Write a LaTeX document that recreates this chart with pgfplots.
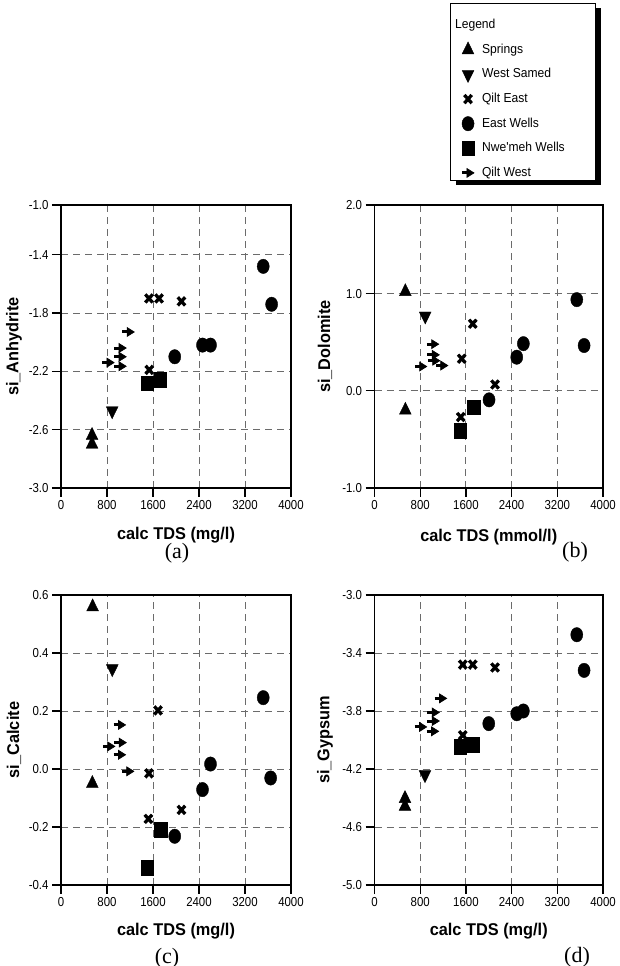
\documentclass[border=0pt]{standalone}
\usepackage{fontspec}
\setmainfont{Liberation Sans}
\newfontfamily\tickfont{Liberation Sans}[FakeStretch=0.88]
\newfontfamily\legfont{Liberation Sans}[FakeStretch=0.93]
\newfontfamily\labfont{Liberation Sans}[FakeStretch=0.96]
\newfontfamily\seriffont{Liberation Serif}
\usepackage{pgfplots}
\pgfplotsset{compat=1.18}
\usetikzlibrary{shadows}

\pgfdeclareplotmark{rarrow}{%
  \pgfsetlinewidth{3pt}%
  \pgfpathmoveto{\pgfqpoint{-\pgfplotmarksize}{0pt}}%
  \pgfpathlineto{\pgfqpoint{0pt}{0pt}}%
  \pgfusepathqstroke
  \pgfsetlinewidth{0.6pt}%
  \pgfpathmoveto{\pgfqpoint{-0.2\pgfplotmarksize}{0.75\pgfplotmarksize}}%
  \pgfpathlineto{\pgfqpoint{\pgfplotmarksize}{0pt}}%
  \pgfpathlineto{\pgfqpoint{-0.2\pgfplotmarksize}{-0.75\pgfplotmarksize}}%
  \pgfpathclose
  \pgfusepathqfillstroke
}

\pgfplotsset{
  panel/.style={
    scale only axis,
    xmin=0, xmax=4000,
    xtick={0,800,1600,2400,3200,4000},
    tick pos=left,
    tick align=outside,
    major tick length=9pt,
    every tick/.style={black, line width=1.2pt},
    axis line style={line width=1.6pt},
    grid=major,
    major grid style={black!58, line width=0.9pt, dash pattern=on 7pt off 5pt},
    /pgf/number format/assume math mode=true,
    /pgf/number format/1000 sep={},
    scaled ticks=false,
    tick label style={font=\tickfont\fontsize{13}{13}\selectfont},
    label style={font=\labfont\bfseries\fontsize{17}{17}\selectfont},
    clip=false,
  },
  sp/.style={black, only marks, mark=triangle*, mark size=8pt, mark options={fill=black, draw=black, line width=0.4pt, xscale=0.85}},
  ws/.style={black, only marks, mark=triangle*, mark size=8pt, mark options={fill=black, draw=black, line width=0.4pt, xscale=0.85, rotate=180}},
  qe/.style={black, only marks, mark=x, mark size=5.8pt, mark options={draw=black, line width=3.3pt, xscale=0.9}},
  ew/.style={black, only marks, mark=*, mark size=7.2pt, mark options={fill=black, draw=black, line width=0.4pt, xscale=0.84}},
  nw/.style={black, only marks, mark=square*, mark size=7.2pt, mark options={fill=black, draw=black, line width=0.4pt, xscale=0.84}},
  qw/.style={black, only marks, mark=rarrow, mark size=6pt, mark options={fill=black, draw=black}},
}

\begin{document}
\begin{tikzpicture}
\path[use as bounding box] (0pt,0pt) rectangle (619pt,966pt);

% ---------------- (a) ----------------
\begin{axis}[panel, at={(61pt,478pt)}, anchor=south west, width=230pt, height=283pt,
  ymin=-3, ymax=-1.059, ytick={-3,-2.6,-2.2,-1.8,-1.4,-1.059},
  yticklabels={-3.0,-2.6,-2.2,-1.8,-1.4,-1.0},
  xlabel={calc TDS (mg/l)}, ylabel={si\_Anhydrite},
  xlabel style={at={(axis description cs:0.5,-0.166)}, anchor=center},
  ylabel style={at={(axis description cs:-0.204,0.5)}, anchor=center},
  legend cell align=left,
  legend style={at={(1.6913,1.7138)}, anchor=north west, draw=black, line width=1pt, fill=white,
    font=\legfont\fontsize{13}{15}\selectfont,
    drop shadow={shadow xshift=5pt, shadow yshift=-5pt, fill=black, opacity=1},
    inner ysep=1pt, inner xsep=9pt,
    row sep=0pt, nodes={text height=9.5pt, text depth=2.5pt, inner ysep=6.3pt},
    /tikz/every odd column/.append style={column sep=6pt}},
]
\addlegendimage{empty legend}\addlegendentry[text height=18pt]{\hspace*{-27pt}Legend}
\addplot[sp] coordinates {(540,-2.64) (540,-2.70)};
\addlegendentry{Springs}
\addplot[ws] coordinates {(890,-2.47)};
\addlegendentry{West Samed}
\addplot[qe] coordinates {(1530,-1.70) (1705,-1.70) (2095,-1.72) (1535,-2.19)};
\addlegendentry{Qilt East}
\addplot[ew] coordinates {(1978,-2.10) (2461,-2.02) (2600,-2.02) (3517,-1.48) (3663,-1.74)};
\addlegendentry{East Wells}
\addplot[nw] coordinates {(1504,-2.28) (1722,-2.256)};
\addlegendentry{Nwe'meh Wells\hspace*{20pt}}
\addplot[qw] coordinates {(820,-2.14) (1030,-2.04) (1030,-2.10) (1030,-2.165) (1170,-1.93)};
\addlegendentry[anchor=base west, text height=6.05pt, text depth=-1.45pt]{\raisebox{-3.5pt}{Qilt West}}
\end{axis}

% ---------------- (b) ----------------
\begin{axis}[panel, at={(374.5pt,478pt)}, anchor=south west, width=228.5pt, height=283pt,
  ymin=-1, ymax=1.912, ytick={-1,0,1,1.912},
  yticklabels={-1.0,0.0,1.0,2.0},
  xlabel={calc TDS (mmol/l)}, ylabel={si\_Dolomite},
  xlabel style={at={(axis description cs:0.5,-0.175)}, anchor=center},
  ylabel style={at={(axis description cs:-0.217,0.5)}, anchor=center},
]
\addplot[sp] coordinates {(540,1.02) (540,-0.20)};
\addplot[ws] coordinates {(888,0.77)};
\addplot[qe] coordinates {(1720,0.69) (1527,0.33) (2110,0.065) (1510,-0.27)};
\addplot[ew] coordinates {(2005,-0.093) (2490,0.346) (2606,0.485) (3541,0.938) (3669,0.466)};
\addplot[nw] coordinates {(1737,-0.17) (1497,-0.41)};
\addplot[qw] coordinates {(810,0.25) (1020,0.48) (1030,0.37) (1040,0.31) (1180,0.26)};
\end{axis}

% ---------------- (c) ----------------
\begin{axis}[panel, at={(61pt,81pt)}, anchor=south west, width=230pt, height=290pt,
  ymin=-0.4, ymax=0.6, ytick={-0.4,-0.2,0,0.2,0.4,0.6},
  yticklabels={-0.4,-0.2,0.0,0.2,0.4,0.6},
  xlabel={calc TDS (mg/l)}, ylabel={si\_Calcite},
  xlabel style={at={(axis description cs:0.5,-0.159)}, anchor=center},
  ylabel style={at={(axis description cs:-0.204,0.5)}, anchor=center},
]
\addplot[sp] coordinates {(550,0.559) (545,-0.05)};
\addplot[ws] coordinates {(892,0.346)};
\addplot[qe] coordinates {(1687,0.202) (1530,-0.015) (2095,-0.141) (1520,-0.172)};
\addplot[ew] coordinates {(1978,-0.232) (2461,-0.071) (2600,0.017) (3517,0.246) (3646,-0.031)};
\addplot[nw] coordinates {(1734,-0.209) (1502,-0.34)};
\addplot[qw] coordinates {(1020,0.152) (833,0.078) (1032,0.091) (1020,0.049) (1164,-0.008)};
\end{axis}

% ---------------- (d) ----------------
\begin{axis}[panel, at={(374.5pt,81pt)}, anchor=south west, width=228.5pt, height=290pt,
  ymin=-5, ymax=-3, ytick={-5,-4.6,-4.2,-3.8,-3.4,-3},
  yticklabels={-5.0,-4.6,-4.2,-3.8,-3.4,-3.0},
  xlabel={calc TDS (mg/l)}, ylabel={si\_Gypsum},
  xlabel style={at={(axis description cs:0.5,-0.159)}, anchor=center},
  ylabel style={at={(axis description cs:-0.217,0.5)}, anchor=center},
]
\addplot[sp] coordinates {(534,-4.404) (534,-4.458)};
\addplot[ws] coordinates {(884,-4.239)};
\addplot[qe] coordinates {(1545,-3.48) (1720,-3.48) (2110,-3.50) (1545,-3.967)};
\addplot[ew] coordinates {(2000,-3.887) (2490,-3.819) (2606,-3.80) (3541,-3.274) (3669,-3.52)};
\addplot[nw] coordinates {(1497,-4.047) (1730,-4.033)};
\addplot[qw] coordinates {(1159,-3.713) (809,-3.91) (1030,-3.81) (1030,-3.869) (1019,-3.94)};
\end{axis}

\node[font=\seriffont\fontsize{22}{22}\selectfont] at (177pt,413pt) {(a)};
\node[font=\seriffont\fontsize{22}{22}\selectfont] at (575pt,414pt) {(b)};
\node[font=\seriffont\fontsize{22}{22}\selectfont] at (167pt,8pt) {(c)};
\node[font=\seriffont\fontsize{22}{22}\selectfont] at (577pt,9pt) {(d)};
\end{tikzpicture}
\end{document}
